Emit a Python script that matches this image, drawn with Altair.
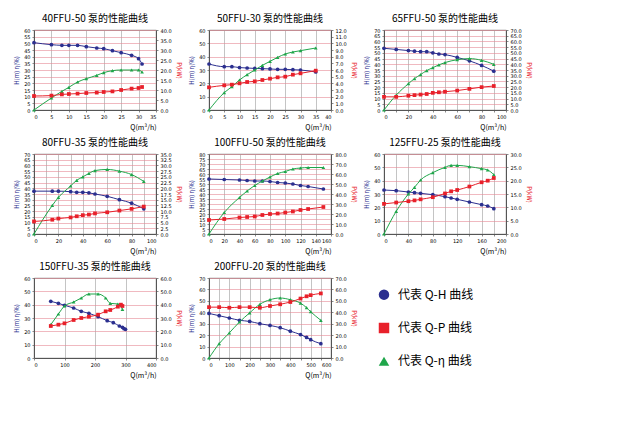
import altair as alt
import pandas as pd

# ---- 40FFU-50
Q_40 = [0, 5, 8, 10, 12.5, 15, 18, 20, 22.5, 25, 28, 30, 31]
H_40 = [50.5, 49, 48.5, 48.5, 48.5, 47.5, 46.5, 46, 44.5, 43, 41, 38.5, 34.5]
E_40 = [0, 9, 14, 17, 21, 23.5, 26, 28, 29.5, 30, 30, 30, 28.5]
P_40 = [7, 7.2, 7.8, 8, 8.2, 8.5, 8.7, 9, 9.3, 10, 10.7, 11, 11.5]

# ---- 50FFU-30
Q_50 = [0, 5, 7.5, 10, 12.5, 15, 17.5, 20, 22.5, 25, 27.5, 30, 35]
H_50 = [34.5, 32.5, 32.5, 31.8, 31.5, 31.2, 31, 30.8, 30.5, 30.5, 30.2, 30, 28.5]
E_50 = [0, 13, 17.5, 22.5, 26.5, 30, 33.5, 36.5, 39.5, 42, 43.5, 44.5, 46.5]
P_50 = [3.4, 3.7, 3.8, 4.0, 4.2, 4.3, 4.5, 4.7, 4.9, 5.0, 5.3, 5.5, 5.9]

# ---- 65FFU-50
Q_65 = [0, 10, 20, 25, 30, 35, 40, 45, 50, 60, 70, 80, 90]
H_65 = [54, 53, 52, 51.5, 51, 51, 50, 49, 48.5, 46, 43, 39, 34]
E_65 = [0, 13, 23, 27.5, 31, 34.5, 37, 39.5, 41.5, 44, 45, 43.5, 40]
P_65 = [11.5, 11.5, 12.5, 13, 13.5, 14, 15, 15.5, 16, 17, 18.5, 20, 21]

# ---- 80FFU-35
Q_80 = [0, 15, 20, 30, 35, 40, 45, 50, 60, 70, 80, 90]
H_80 = [37.5, 37.5, 37.5, 37, 36.5, 36.5, 36, 35, 33, 30, 27, 22]
E_80 = [0, 25, 32, 42, 47, 50, 53, 55.5, 56.5, 55, 52, 46]
P_80 = [5.5, 6.25, 6.75, 7.25, 7.75, 8.25, 8.5, 9, 9.5, 10.25, 11, 12]

# ---- 100FFU-50
Q_100 = [0, 20, 40, 50, 60, 70, 80, 90, 100, 110, 120, 130, 150]
H_100 = [55, 54.5, 54, 53.5, 53, 53, 52.5, 51.5, 51, 50, 48.5, 47.5, 45]
E_100 = [0, 21.5, 36.5, 43, 48.5, 53, 57, 60.5, 62.5, 65, 66, 66.5, 66.5]
P_100 = [14, 15, 16.5, 17, 17.5, 19, 20, 20.5, 21.5, 22.5, 24, 25, 27]

# ---- 125FFU-25
Q_125 = [0, 20, 40, 50, 60, 80, 100, 110, 120, 140, 160, 170, 180]
H_125 = [33, 32.5, 31.5, 31, 30.5, 29.5, 28, 27, 26, 24, 22, 21, 19]
E_125 = [0, 17, 30, 35, 40.5, 46, 50, 51.5, 51.5, 50.5, 49, 48, 44.5]
P_125 = [11.3, 11.8, 12.3, 12.6, 13, 13.8, 15.2, 16, 16.5, 17.8, 19.4, 20, 21]

# ---- 150FFU-35
QH_150 = [55, 80, 100, 130, 155, 180, 210, 240, 260, 280, 290, 295, 300]
H_150 = [42.5, 41, 39.5, 37.5, 35, 33.5, 31, 28, 26.5, 24, 23, 22, 21.5]
QE_150 = [55, 80, 100, 130, 155, 180, 210, 235, 250, 275, 290]
E_150 = [25, 33, 39, 42, 45, 48, 48, 45, 41, 40.5, 36.5]
QP_150 = [55, 80, 100, 130, 155, 180, 210, 235, 250, 275, 285, 290]
P_150 = [24, 25, 26, 28.5, 30, 31, 32.5, 35, 36, 38.5, 40, 39]

# ---- 200FFU-20
Q_200 = [0, 50, 100, 150, 200, 250, 300, 350, 400, 450, 480, 500, 550]
H_200 = [39, 37, 35, 33, 32, 30, 28.5, 26.5, 23.5, 20.5, 18, 16, 12.5]
E_200 = [0, 12.5, 22, 31.5, 39.5, 47, 51, 52.5, 51, 48, 44, 40.5, 33]
P_200 = [44.5, 44.5, 44, 44.5, 44.5, 44, 45.5, 47, 49, 52, 54, 55, 56.5]

LEGEND_LABELS = ["代表 Q-H 曲线", "代表 Q-P 曲线", "代表 Q-η 曲线"]

FONT = "Noto Sans CJK SC"
BLUE, RED, GREEN = "#2b2f8f", "#e8202a", "#1fa64a"


def series(qs, vs, name):
    return pd.DataFrame({"Q": qs, "v": vs, "s": name})


def curve(df, color, shape, y):
    return (
        alt.Chart(df)
        .mark_line(
            color=color,
            strokeWidth=1,
            interpolate="monotone",
            point=alt.OverlayMarkDef(shape=shape, color=color, size=14, filled=True),
        )
        .encode(x=alt.X("Q:Q"), y=y)
    )


def panel(title, qh, h, qe, e, qp, p, xmax, xstep, lmax, lstep, rmax, rstep):
    xs = alt.Scale(domain=[0, xmax], nice=False)
    xax = alt.Axis(
        values=list(range(0, xmax + 1, xstep)),
        title="Q(m³/h)",
        titleAnchor="end",
        titleFontSize=7,
        titleFontWeight="normal",
        labelFontSize=5,
        gridColor="#888",
        gridWidth=0.5,
        tickSize=2,
    )
    lax = alt.Axis(
        values=list(range(0, lmax + 1, lstep)),
        title="H(m) η(%)",
        titleColor=BLUE,
        titleFontSize=6,
        titleFontWeight="normal",
        labelFontSize=5,
        gridColor="#e58a95",
        gridWidth=0.6,
        tickSize=2,
    )
    rvals = [round(i * rstep, 2) for i in range(int(round(rmax / rstep)) + 1)]
    rax = alt.Axis(
        values=rvals,
        format=".1f",
        orient="right",
        title="P(kW)",
        titleColor=RED,
        titleFontSize=6,
        titleFontWeight="normal",
        labelFontSize=5,
        grid=False,
        tickSize=2,
    )
    ly = alt.Y("v:Q", scale=alt.Scale(domain=[0, lmax], nice=False), axis=lax)
    ry = alt.Y("v:Q", scale=alt.Scale(domain=[0, rmax], nice=False), axis=rax)
    hl = curve(series(qh, h, "H"), BLUE, "circle", ly).encode(
        x=alt.X("Q:Q", scale=xs, axis=xax)
    )
    el = curve(series(qe, e, "E"), GREEN, "triangle-up", ly).encode(
        x=alt.X("Q:Q", scale=xs, axis=xax)
    )
    pl = curve(series(qp, p, "P"), RED, "square", ry).encode(
        x=alt.X("Q:Q", scale=xs, axis=xax)
    )
    return (
        alt.layer(alt.layer(hl, el), pl)
        .resolve_scale(y="independent")
        .properties(
            width=122,
            height=80,
            title=alt.TitleParams(title, fontSize=10, font=FONT, fontWeight="normal"),
        )
    )


c40 = panel("40FFU-50 泵的性能曲线", Q_40, H_40, Q_40, E_40, Q_40, P_40, 35, 5, 60, 5, 40, 5)
c50 = panel("50FFU-30 泵的性能曲线", Q_50, H_50, Q_50, E_50, Q_50, P_50, 40, 5, 60, 10, 12, 1)
c65 = panel("65FFU-50 泵的性能曲线", Q_65, H_65, Q_65, E_65, Q_65, P_65, 100, 10, 70, 5, 70, 5)
c80 = panel("80FFU-35 泵的性能曲线", Q_80, H_80, Q_80, E_80, Q_80, P_80, 100, 10, 70, 5, 35, 2.5)
c100 = panel("100FFU-50 泵的性能曲线", Q_100, H_100, Q_100, E_100, Q_100, P_100, 160, 20, 80, 5, 80, 10)
c125 = panel("125FFU-25 泵的性能曲线", Q_125, H_125, Q_125, E_125, Q_125, P_125, 200, 20, 60, 10, 30, 5)
c150 = panel("150FFU-35 泵的性能曲线", QH_150, H_150, QE_150, E_150, QP_150, P_150, 400, 100, 60, 10, 60, 10)
c200 = panel("200FFU-20 泵的性能曲线", Q_200, H_200, Q_200, E_200, Q_200, P_200, 600, 50, 70, 10, 70, 10)

leg_df = pd.DataFrame(
    {"label": LEGEND_LABELS, "row": [0, 1, 2], "kind": ["H", "P", "E"]}
)
leg_base = alt.Chart(leg_df).encode(
    y=alt.Y("row:O", axis=None, scale=alt.Scale(paddingOuter=0.5))
)
leg_pts = leg_base.mark_point(filled=True, size=110, opacity=1).encode(
    x=alt.value(20),
    shape=alt.Shape(
        "kind:N",
        scale=alt.Scale(domain=["H", "P", "E"], range=["circle", "square", "triangle-up"]),
        legend=None,
    ),
    color=alt.Color(
        "kind:N", scale=alt.Scale(domain=["H", "P", "E"], range=[BLUE, RED, GREEN]), legend=None
    ),
)
leg_txt = leg_base.mark_text(align="left", fontSize=12, font=FONT).encode(
    x=alt.value(34), text="label:N"
)
legend = alt.layer(leg_pts, leg_txt).properties(
    width=150, height=100, view=alt.ViewConfig(stroke="transparent")
)

chart = (
    alt.vconcat(
        alt.hconcat(c40, c50, c65, spacing=6),
        alt.hconcat(c80, c100, c125, spacing=6),
        alt.hconcat(c150, c200, legend, spacing=6),
        spacing=6,
    )
    .configure_view(stroke="#555", strokeWidth=0.8)
    .configure_axis(labelFont="DejaVu Sans", titleFont=FONT, domainColor="#555")
)

chart.save("out.html", embed_options={"renderer": "svg", "actions": False})
